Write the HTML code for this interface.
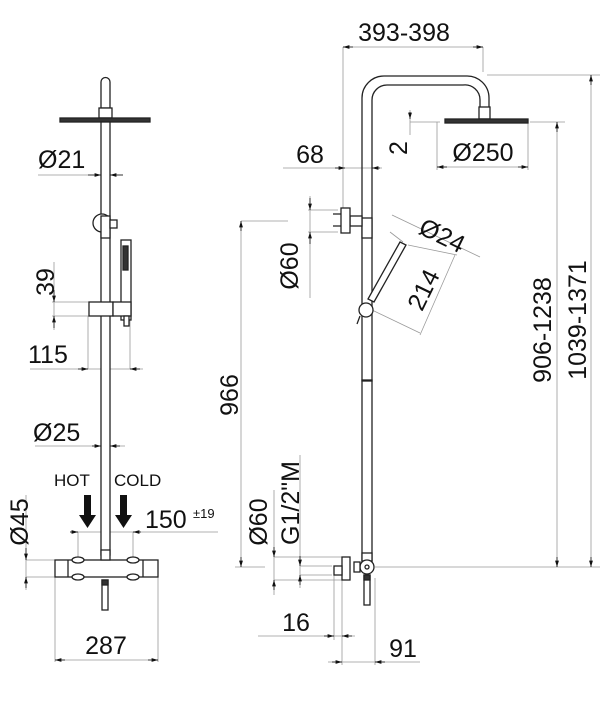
<!DOCTYPE html>
<html><head><meta charset="utf-8"><style>
html,body{margin:0;padding:0;background:#fff;}
svg{display:block;}
text{font-family:"Liberation Sans",sans-serif;fill:#111;}
</style></head><body>
<svg width="600" height="710" viewBox="0 0 600 710" xmlns="http://www.w3.org/2000/svg">
<defs>
<marker id="a" viewBox="0 0 10 6" refX="10" refY="3" markerWidth="8" markerHeight="5" orient="auto-start-reverse"><path d="M0,0L10,3L0,6z" fill="#111"/></marker>
</defs>
<g stroke="#999" stroke-width="0.8" fill="none">
<line x1="38" y1="175" x2="123" y2="175"/>
<line x1="52" y1="302" x2="92" y2="302"/><line x1="52" y1="316" x2="92" y2="316"/>
<line x1="54" y1="262" x2="54" y2="330"/>
<line x1="30" y1="369" x2="143" y2="369"/>
<line x1="88" y1="316" x2="88" y2="369"/><line x1="130" y1="320" x2="130" y2="369"/>
<line x1="35" y1="446" x2="125" y2="446"/>
<line x1="70" y1="532" x2="218" y2="532"/>
<line x1="78" y1="532" x2="78" y2="560"/><line x1="133" y1="532" x2="133" y2="560"/>
<line x1="26" y1="560" x2="55" y2="560"/><line x1="26" y1="577" x2="55" y2="577"/>
<line x1="26" y1="495" x2="26" y2="590"/>
<line x1="55" y1="577" x2="55" y2="662"/><line x1="158" y1="577" x2="158" y2="662"/>
<line x1="55" y1="660" x2="158" y2="660"/>
<line x1="343" y1="47" x2="483" y2="47"/>
<line x1="343" y1="47" x2="343" y2="215"/><line x1="483" y1="47" x2="483" y2="72"/>
<line x1="487" y1="75" x2="600" y2="75"/>
<line x1="591" y1="75" x2="591" y2="567"/>
<line x1="530" y1="122" x2="565" y2="122"/>
<line x1="557" y1="122" x2="557" y2="567"/>
<line x1="410" y1="122" x2="440" y2="122"/><line x1="410" y1="110" x2="410" y2="135"/>
<line x1="437" y1="122" x2="437" y2="170"/><line x1="528" y1="122" x2="528" y2="170"/>
<line x1="437" y1="167" x2="528" y2="167"/>
<line x1="283" y1="168" x2="382" y2="168"/>
<line x1="308" y1="210" x2="338" y2="210"/><line x1="308" y1="232" x2="338" y2="232"/>
<line x1="310" y1="196" x2="310" y2="298"/>
<line x1="241" y1="221" x2="288" y2="221"/>
<line x1="241" y1="221" x2="241" y2="567"/>
<line x1="235" y1="567" x2="265" y2="567"/>
<line x1="375" y1="567" x2="600" y2="567"/>
<line x1="392" y1="215" x2="480" y2="257"/>
<line x1="403" y1="242" x2="390" y2="232"/>
<line x1="408" y1="245" x2="457" y2="255"/>
<line x1="372" y1="310" x2="420" y2="333"/>
<line x1="455" y1="255" x2="420" y2="335"/>
<line x1="274" y1="557" x2="342" y2="557"/><line x1="274" y1="580" x2="342" y2="580"/>
<line x1="274" y1="490" x2="274" y2="595"/>
<line x1="300" y1="566" x2="332" y2="566"/><line x1="300" y1="575" x2="332" y2="575"/>
<line x1="300" y1="455" x2="300" y2="588"/>
<line x1="258" y1="636" x2="355" y2="636"/>
<line x1="334" y1="575" x2="334" y2="640"/><line x1="342" y1="580" x2="342" y2="665"/>
<line x1="375" y1="578" x2="375" y2="665"/>
<line x1="328" y1="662" x2="420" y2="662"/>
</g>
<g stroke="#111" stroke-width="0.8" fill="none">
<line x1="88" y1="175" x2="101" y2="175" marker-end="url(#a)"/><line x1="123" y1="175" x2="110" y2="175" marker-end="url(#a)"/>
<line x1="54" y1="290" x2="54" y2="302" marker-end="url(#a)"/><line x1="54" y1="328" x2="54" y2="316" marker-end="url(#a)"/>
<line x1="78" y1="369" x2="88" y2="369" marker-end="url(#a)"/><line x1="140" y1="369" x2="130" y2="369" marker-end="url(#a)"/>
<line x1="92" y1="446" x2="101" y2="446" marker-end="url(#a)"/><line x1="120" y1="446" x2="110" y2="446" marker-end="url(#a)"/>
<line x1="70" y1="532" x2="78" y2="532" marker-end="url(#a)"/><line x1="141" y1="532" x2="133" y2="532" marker-end="url(#a)"/>
<line x1="26" y1="548" x2="26" y2="560" marker-end="url(#a)"/><line x1="26" y1="588" x2="26" y2="577" marker-end="url(#a)"/>
<line x1="65" y1="660" x2="55" y2="660" marker-end="url(#a)"/><line x1="148" y1="660" x2="158" y2="660" marker-end="url(#a)"/>
<line x1="353" y1="47" x2="343" y2="47" marker-end="url(#a)"/><line x1="473" y1="47" x2="483" y2="47" marker-end="url(#a)"/>
<line x1="591" y1="85" x2="591" y2="75" marker-end="url(#a)"/><line x1="591" y1="557" x2="591" y2="567" marker-end="url(#a)"/>
<line x1="557" y1="132" x2="557" y2="122" marker-end="url(#a)"/><line x1="557" y1="557" x2="557" y2="567" marker-end="url(#a)"/>
<line x1="410" y1="112" x2="410" y2="119" marker-end="url(#a)"/>
<line x1="447" y1="167" x2="437" y2="167" marker-end="url(#a)"/><line x1="518" y1="167" x2="528" y2="167" marker-end="url(#a)"/>
<line x1="335" y1="168" x2="345" y2="168" marker-end="url(#a)"/><line x1="380" y1="168" x2="372" y2="168" marker-end="url(#a)"/>
<line x1="310" y1="198" x2="310" y2="210" marker-end="url(#a)"/><line x1="310" y1="244" x2="310" y2="232" marker-end="url(#a)"/>
<line x1="241" y1="231" x2="241" y2="221" marker-end="url(#a)"/><line x1="241" y1="557" x2="241" y2="567" marker-end="url(#a)"/>
<line x1="274" y1="547" x2="274" y2="557" marker-end="url(#a)"/><line x1="274" y1="590" x2="274" y2="580" marker-end="url(#a)"/>
<line x1="300" y1="556" x2="300" y2="566" marker-end="url(#a)"/><line x1="300" y1="585" x2="300" y2="575" marker-end="url(#a)"/>
<line x1="324" y1="636" x2="334" y2="636" marker-end="url(#a)"/><line x1="352" y1="636" x2="342" y2="636" marker-end="url(#a)"/>
<line x1="332" y1="662" x2="342" y2="662" marker-end="url(#a)"/><line x1="385" y1="662" x2="375" y2="662" marker-end="url(#a)"/>
</g>
<g stroke="#222" stroke-width="1.3" fill="#fff">
<path d="M101,108 L101,82 A4.5,4.5 0 0 1 110,82 L110,108 Z"/>
<rect x="99" y="108" width="13" height="10"/>
<rect x="60" y="118" width="90" height="4" fill="#333"/>
<rect x="101" y="122" width="9" height="433"/>
<circle cx="102" cy="223" r="9"/>
<rect x="101" y="216" width="9" height="22"/>
<rect x="110" y="220" width="7" height="8"/>
<rect x="121" y="240" width="10" height="80"/>
<rect x="123" y="246" width="5" height="24" fill="#333"/>
<rect x="89" y="302" width="24" height="14"/>
<rect x="113" y="302" width="18" height="14"/>
<rect x="124" y="316" width="5" height="10"/>
<rect x="55" y="560" width="103" height="17"/>
<line x1="68" y1="560" x2="68" y2="577"/><line x1="143" y1="560" x2="143" y2="577"/>
<ellipse cx="78" cy="560" rx="6" ry="3"/><ellipse cx="133" cy="560" rx="6" ry="3"/>
<ellipse cx="78" cy="577" rx="6" ry="3"/><ellipse cx="133" cy="577" rx="6" ry="3"/>
<rect x="101" y="550" width="9" height="10"/>
<rect x="102" y="580" width="6" height="30"/>
<rect x="102" y="580" width="6" height="5" fill="#333"/>
</g>
<path d="M84,495h7v20h5l-8.5,13l-8.5,-13h5z" fill="#111"/>
<path d="M120,495h7v20h5l-8.5,13l-8.5,-13h5z" fill="#111"/>
<g stroke="#222" stroke-width="1.3" fill="none">
<path d="M362,565 L362,98 A22,22 0 0 1 384,76 L466,76 A22,22 0 0 1 489,98 L489,108"/>
<path d="M372,565 L372,100 A15,15 0 0 1 387,85 L463,85 A15,15 0 0 1 480,100 L480,108"/>
</g>
<g stroke="#222" stroke-width="1.3" fill="#fff">
<rect x="479" y="107" width="11" height="12"/>
<rect x="445" y="119" width="83" height="4" fill="#333"/>
<rect x="362" y="218" width="10" height="20"/>
<rect x="350" y="216" width="12" height="10"/>
<rect x="341" y="208" width="9" height="25"/>
<path d="M341,214h-8M341,226h-8"/>
<polygon points="400,242 406,245 374,302 368,299"/>
<circle cx="366" cy="310" r="7"/>
<line x1="360" y1="316" x2="357" y2="324"/>
<rect x="362" y="380" width="10" height="1"/>
<rect x="362" y="553" width="10" height="8"/>
<circle cx="367" cy="567" r="7"/><circle cx="367" cy="567" r="2"/>
<rect x="354" y="562" width="6" height="10"/>
<rect x="342" y="557" width="8" height="23"/>
<rect x="334" y="566" width="8" height="9"/>
<rect x="364" y="575" width="6" height="30"/>
<rect x="364" y="575" width="6" height="5" fill="#333"/>
</g>
<g font-size="25">
<text x="38" y="168">Ø21</text>
<text x="46" y="282" transform="rotate(-90 46 282)" text-anchor="middle" dy="8">39</text>
<text x="28" y="363">115</text>
<text x="33" y="441">Ø25</text>
<text x="145" y="528">150</text>
<text x="20" y="522" transform="rotate(-90 20 522)" text-anchor="middle" dy="8">Ø45</text>
<text x="106" y="654" text-anchor="middle">287</text>
<text x="404" y="41" text-anchor="middle">393-398</text>
<text x="310" y="163" text-anchor="middle">68</text>
<text x="399" y="148" transform="rotate(-90 399 148)" text-anchor="middle" dy="8">2</text>
<text x="483" y="161" text-anchor="middle">Ø250</text>
<text x="290" y="266" transform="rotate(-90 290 266)" text-anchor="middle" dy="8">Ø60</text>
<text x="230" y="395" transform="rotate(-90 230 395)" text-anchor="middle" dy="8">966</text>
<text x="442" y="236" transform="rotate(26 442 236)" text-anchor="middle" dy="8">Ø24</text>
<text x="424" y="290" transform="rotate(-64 424 290)" text-anchor="middle" dy="8">214</text>
<text x="543" y="330" transform="rotate(-90 543 330)" text-anchor="middle" dy="8">906-1238</text>
<text x="578" y="320" transform="rotate(-90 578 320)" text-anchor="middle" dy="8">1039-1371</text>
<text x="259" y="522" transform="rotate(-90 259 522)" text-anchor="middle" dy="8">Ø60</text>
<text x="291" y="503" transform="rotate(-90 291 503)" text-anchor="middle" dy="8">G1/2"M</text>
<text x="296" y="631" text-anchor="middle">16</text>
<text x="403" y="657" text-anchor="middle">91</text>
</g>
<text x="54" y="486" font-size="17">HOT</text>
<text x="114" y="486" font-size="17">COLD</text>
<text x="193" y="518" font-size="13">±19</text>
</svg>
</body></html>
